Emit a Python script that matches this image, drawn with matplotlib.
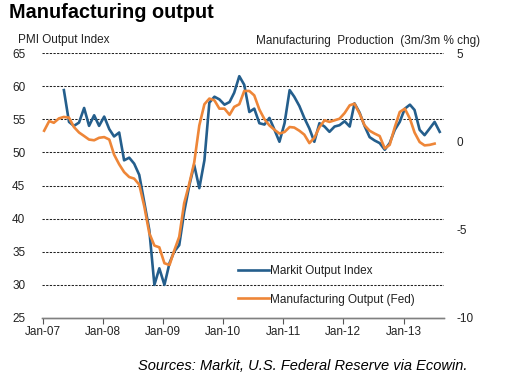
import matplotlib
matplotlib.use("Agg")
import matplotlib.pyplot as plt
import matplotlib.dates as mdates
import pandas as pd
import numpy as np

plt.rcParams['font.family'] = ['Liberation Sans', 'DejaVu Sans']

# Markit Output Index (left axis), monthly from May-2007
markit_start = '2007-05-01'
markit = [59.4, 54.6, 54.0, 54.5, 56.7, 54.0, 55.6, 54.0, 55.4, 53.5,
          52.4, 53.0, 48.8, 49.2, 48.3, 46.6, 42.4, 38.3, 30.0, 32.5,
          30.0, 33.3, 35.0, 36.0, 41.0, 45.0, 48.1, 44.6, 48.8, 57.5,
          58.4, 58.0, 57.2, 57.6, 59.0, 61.5, 60.2, 56.1, 56.6, 54.4,
          54.2, 55.2, 53.4, 51.6, 54.4, 59.4, 58.4, 57.0, 55.2, 53.6,
          51.6, 54.4, 53.9, 53.1, 53.9, 54.1, 54.7, 53.9, 57.4, 56.0,
          54.0, 52.3, 51.8, 51.4, 50.4, 51.4, 53.4, 54.6, 56.6, 57.2,
          56.4, 53.4, 52.6, 53.6, 54.6, 53.1]

# Manufacturing Output (Fed), 3m/3m % chg (right axis), monthly from Jan-2007
fed_start = '2007-01-01'
fed = [0.6, 1.15, 1.05, 1.3, 1.38, 1.34, 0.81, 0.5, 0.3, 0.1,
       0.06, 0.2, 0.24, 0.1, -0.75, -1.3, -1.74, -2.02, -2.11, -2.45,
       -3.7, -5.2, -5.9, -6.0, -6.9, -7.0, -6.2, -5.4, -3.5, -2.4,
       -1.2, 0.9, 2.1, 2.42, 2.32, 1.85, 1.85, 1.5, 1.95, 2.1,
       2.85, 2.85, 2.6, 1.8, 1.25, 0.9, 0.65, 0.44, 0.53, 0.81,
       0.78, 0.6, 0.38, -0.1, 0.2, 0.8, 1.19, 1.1, 1.19, 1.28,
       1.6, 2.04, 2.13, 1.57, 0.91, 0.6, 0.44, 0.3, -0.4, -0.2,
       0.8, 1.66, 1.85, 1.28, 0.5, -0.04, -0.23, -0.2, -0.13]

left_ticks = [25, 30, 35, 40, 45, 50, 55, 60, 65]
right_ticks = [-10, -5, 0, 5]
year_ticks = ['2007-01-01', '2008-01-01', '2009-01-01', '2010-01-01',
              '2011-01-01', '2012-01-01', '2013-01-01']
year_labels = ['Jan-07', 'Jan-08', 'Jan-09', 'Jan-10', 'Jan-11', 'Jan-12', 'Jan-13']

blue = '#245E8C'
orange = '#EE8638'

shift = pd.Timedelta(days=8)
markit_dates = pd.date_range(markit_start, periods=len(markit), freq='MS') + shift
fed_dates = pd.date_range(fed_start, periods=len(fed), freq='MS') + shift

fig = plt.figure(figsize=(5.2, 3.82), dpi=100)
ax = fig.add_axes([42 / 520, 1 - 318 / 382, (443.5 - 42) / 520, (318 - 53) / 382])
ax2 = ax.twinx()

ax.set_ylim(25, 65)
ax2.set_ylim(-10, 5)
ax.set_xlim(pd.Timestamp('2006-12-27'), pd.Timestamp('2013-09-01'))

for v in left_ticks[1:]:
    ax.axhline(v, color='#222222', lw=0.75, ls=(0, (2.2, 1.3)), zorder=1)

ax.plot(markit_dates, markit, color=blue, lw=1.9, zorder=3, label='Markit Output Index',
        solid_joinstyle='round')
ax2.plot(fed_dates, fed, color=orange, lw=1.9, zorder=3, label='Manufacturing Output (Fed)',
         solid_joinstyle='round')

for a in (ax, ax2):
    for s in ('top', 'left', 'right'):
        a.spines[s].set_visible(False)
    a.spines['bottom'].set_color('#808080')
    a.spines['bottom'].set_linewidth(1.0)

ax.set_yticks(left_ticks)
ax.set_yticklabels([str(v) for v in left_ticks])
ax2.set_yticks(right_ticks)
ax2.set_yticklabels([str(v) for v in right_ticks])
ax.tick_params(axis='y', length=0, pad=12, labelsize=8.5, labelcolor='#222222')
ax2.tick_params(axis='y', length=0, pad=9, labelsize=8.5, labelcolor='#222222')

ax.set_xticks([pd.Timestamp(t) for t in year_ticks])
ax.set_xticklabels(year_labels)
ax.tick_params(axis='x', length=4, width=0.8, color='#555555', pad=2, labelsize=8.5,
               labelcolor='#222222')

fig.text(9 / 520, 1 - 12 / 382, 'Manufacturing output', fontsize=14.3, fontweight='bold',
         ha='left', va='center')
fig.text(18 / 520, 1 - 40 / 382, 'PMI Output Index', fontsize=8.5, ha='left', va='center',
         color='#222222')
fig.text(480 / 520, 1 - 41 / 382, 'Manufacturing  Production  (3m/3m % chg)', fontsize=8.5,
         ha='right', va='center', color='#222222')
fig.text(468 / 520, 1 - 366 / 382, 'Sources: Markit, U.S. Federal Reserve via Ecowin.',
         fontsize=10.5, style='italic', ha='right', va='center')

h1, l1 = ax.get_legend_handles_labels()
h2, l2 = ax2.get_legend_handles_labels()
leg = ax2.legend(h1 + h2, l1 + l2, loc='upper left',
                 bbox_to_anchor=(238 / 520, 1 - 265 / 382), bbox_transform=fig.transFigure,
                 frameon=False, fontsize=8.5, handlelength=2.6, handletextpad=0.15,
                 labelspacing=1.4, borderpad=0, borderaxespad=0)
for t in leg.get_texts():
    t.set_color('#222222')

fig.savefig('out.png', dpi=100)
